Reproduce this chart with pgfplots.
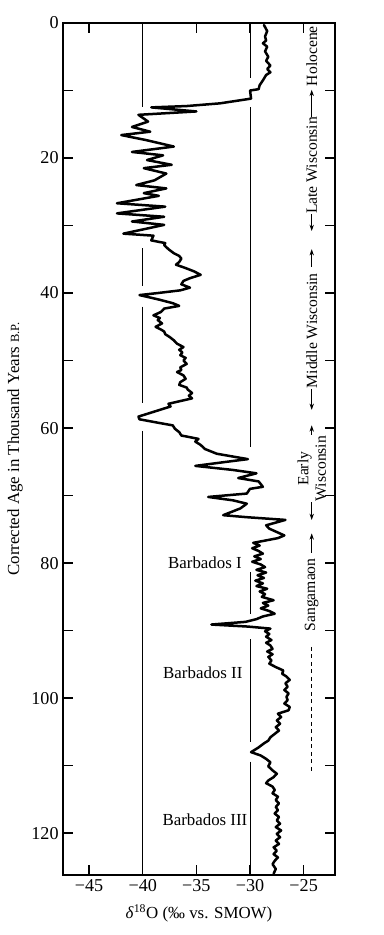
\documentclass[border=0pt]{standalone}
\usepackage{pgfplots}
\pgfplotsset{compat=1.18}
\usepackage{fontspec}
\setmainfont{Liberation Serif}
\usetikzlibrary{arrows.meta}
\begin{document}
\begin{tikzpicture}
\path[use as bounding box] (-50.4pt,-48pt) rectangle (256pt,700pt);
\begin{axis}[
  scale only axis, width=217.6pt, height=681.6pt,
  xmin=-47.43, xmax=-22.08, ymin=0, ymax=126.2,
  y dir=reverse,
  xtick={-45,-40,-35,-30,-25}, xticklabels={−45,−40,−35,−30,−25},
  ytick={0,10,...,120}, yticklabels={0,,20,,40,,60,,80,,100,,120},
  xtick pos=both, ytick pos=both,
  tick align=inside, major tick length=8pt,
  axis line style={line width=1.2pt},
  tick style={line width=1.1pt, black},
  /pgf/number format/assume math mode=true,
  ticklabel style={font=\fontsize{14.5}{16}\selectfont},
  label style={font=\fontsize{13.5}{15}\selectfont},
  xlabel={\textit{δ}\textsuperscript{18}O (‰ vs. SMOW)},
  ylabel={Corrected Age in Thousand Years {\fontsize{10}{12}\selectfont B.P.}},
  xlabel style={at={(axis description cs:0.5,-0.045)}, anchor=center},
  ylabel style={at={(axis description cs:-0.176,0.5)}, anchor=center},
  clip=false,
]
% vertical reference lines with gaps
\draw[line width=0.8pt] (axis cs:-40,0) -- (axis cs:-40,12.4);
\draw[line width=0.8pt] (axis cs:-40,33.4) -- (axis cs:-40,39.0);
\draw[line width=0.8pt] (axis cs:-40,42.0) -- (axis cs:-40,56.3);
\draw[line width=0.8pt] (axis cs:-40,60.4) -- (axis cs:-40,126.2);
\draw[line width=0.8pt] (axis cs:-30,0) -- (axis cs:-30,8.2);
\draw[line width=0.8pt] (axis cs:-30,12.5) -- (axis cs:-30,62.8);
\draw[line width=0.8pt] (axis cs:-30,81.3) -- (axis cs:-30,87.5);
\draw[line width=0.8pt] (axis cs:-30,91.3) -- (axis cs:-30,106.5);
\draw[line width=0.8pt] (axis cs:-30,109.4) -- (axis cs:-30,126.2);

\addplot[black, line width=2pt, line join=round, line cap=round] coordinates {
(-28.7,0.3) (-28.4,1.2) (-28.6,2.0) (-28.5,2.6) (-28.8,3.0) (-28.4,3.5)
(-28.6,4.2) (-28.3,5.0) (-28.5,5.6) (-28.1,6.3) (-28.4,6.8) (-28.1,7.3)
(-28.5,7.7) (-28.8,8.5) (-29.1,9.2) (-29.2,9.8) (-30.0,10.0) (-29.9,11.2)
(-32.8,11.9) (-35.9,12.3) (-39.2,12.5) (-35.0,13.1) (-40.4,13.6)
(-39.5,14.6) (-41.0,15.4) (-39.3,16.1) (-42.0,16.6) (-39.8,17.3)
(-37.1,18.3) (-41.0,19.1) (-38.1,19.6) (-39.6,20.3) (-37.3,21.0)
(-39.9,21.5) (-37.8,22.3) (-38.9,23.3) (-40.6,24.0) (-37.8,24.5)
(-39.9,25.2) (-38.5,25.6) (-42.4,26.7) (-37.9,27.2) (-42.4,28.2)
(-38.0,28.7) (-41.0,29.4) (-38.0,29.9) (-41.8,31.2) (-39.0,31.5)
(-39.2,32.2) (-37.9,32.6) (-38.0,32.9) (-37.6,33.5) (-37.1,34.1)
(-36.6,34.5) (-36.4,34.9) (-36.6,35.4) (-36.9,35.8) (-36.0,36.3)
(-35.2,36.8) (-34.6,37.3) (-35.6,37.8) (-36.2,38.2) (-36.4,38.7)
(-35.6,39.2) (-36.5,39.6) (-38.6,40.0) (-40.3,40.3) (-39.2,40.7)
(-38.4,41.0) (-37.2,41.5) (-36.6,41.9) (-38.0,42.3) (-38.3,42.8)
(-39.0,43.3) (-38.4,43.7) (-38.6,44.0) (-38.2,44.5) (-38.8,45.0)
(-38.3,45.4) (-38.0,45.7) (-37.9,46.1) (-37.5,46.5) (-37.1,47.0)
(-36.8,47.5) (-36.2,48.0) (-36.6,48.4) (-36.3,48.8) (-36.5,49.2)
(-36.0,49.6) (-36.2,50.0) (-35.9,50.5) (-36.5,51.0) (-36.4,51.4)
(-36.8,51.7) (-36.2,52.2) (-36.0,52.7) (-36.5,53.2) (-36.6,53.6)
(-35.9,54.0) (-35.8,54.3) (-35.4,54.8) (-35.7,55.2) (-35.4,55.6)
(-36.5,56.0) (-37.6,56.4) (-37.4,56.8) (-38.6,57.4) (-40.4,58.3)
(-40.3,58.7) (-38.6,59.2) (-37.2,59.6) (-37.0,60.1) (-36.6,60.6)
(-36.4,61.1) (-34.8,61.6) (-35.1,62.0) (-34.6,62.5) (-34.2,63.1)
(-33.1,63.8) (-30.2,64.6) (-32.2,65.0) (-35.1,65.6) (-31.6,66.2)
(-29.4,66.7) (-31.1,67.4) (-29.2,67.9) (-28.8,68.7) (-30.0,69.0)
(-30.3,69.7) (-33.9,70.2) (-31.6,70.7) (-30.3,71.2) (-30.9,71.9)
(-32.5,72.9) (-30.3,73.2) (-26.7,73.6) (-28.5,74.4) (-28.2,74.9)
(-26.8,75.9) (-27.4,76.3) (-29.7,77.0) (-29.1,77.4) (-29.8,77.8)
(-29.2,78.2) (-28.8,78.6) (-29.6,79.0) (-29.0,79.4) (-29.8,79.8)
(-29.0,80.2) (-28.6,80.6) (-29.4,81.0) (-28.5,81.4) (-29.3,81.8)
(-28.7,82.2) (-29.5,82.6) (-28.8,83.0) (-29.4,83.4) (-28.4,83.8)
(-29.1,84.2) (-28.6,84.6) (-28.9,85.0) (-27.8,85.5) (-28.8,85.9)
(-28.3,86.3) (-29.0,86.7) (-28.2,87.1) (-27.7,87.5) (-28.8,87.9)
(-29.4,88.3) (-30.4,88.7) (-33.6,89.1) (-30.2,89.4) (-28.1,89.7)
(-28.6,90.1) (-28.2,90.5) (-28.5,90.9) (-28.0,91.4) (-28.5,91.8)
(-28.1,92.2) (-27.9,92.7) (-28.4,93.1) (-27.9,93.5) (-28.3,93.9)
(-28.0,94.4) (-28.2,94.9) (-27.6,95.4) (-26.9,95.9) (-27.0,96.4)
(-26.6,96.8) (-26.3,97.3) (-26.7,97.8) (-26.5,98.3) (-26.8,98.8)
(-26.4,99.3) (-26.6,99.8) (-26.5,100.3) (-26.8,100.8) (-26.3,101.3)
(-26.4,101.8) (-27.4,102.3) (-27.1,102.8) (-27.5,103.3) (-27.2,103.8)
(-27.6,104.3) (-27.3,104.8) (-27.7,105.3) (-28.1,105.8) (-28.3,106.3)
(-28.7,106.7) (-29.2,107.3) (-29.9,108.0) (-29.0,108.5) (-28.5,109.0)
(-28.1,109.5) (-28.3,110.1) (-27.9,110.7) (-27.5,111.2) (-27.8,111.7)
(-28.3,112.2) (-28.5,112.6) (-27.9,113.1) (-27.7,113.6) (-27.9,114.1)
(-27.4,114.6) (-27.6,115.1) (-27.3,115.6) (-27.6,116.1) (-27.4,116.6)
(-27.7,117.1) (-27.3,117.6) (-27.5,118.1) (-27.2,118.6) (-27.6,119.1)
(-27.1,119.6) (-27.5,120.1) (-27.2,120.6) (-27.6,121.1) (-27.3,121.6)
(-27.8,122.1) (-27.5,122.6) (-27.8,123.1) (-27.4,123.6) (-27.7,124.1)
(-27.9,124.6) (-27.6,125.3) (-27.8,126.0)
};

% era annotations
\begin{scope}[font=\fontsize{12.5}{14}\selectfont]
\node[rotate=90] at (axis cs:-24.25,4.9) {Holocene};
\draw[-{Stealth[length=5pt,width=3.5pt]}, line width=0.6pt] (axis cs:-24.25,13.9) -- (axis cs:-24.25,9.9);
\node[rotate=90] at (axis cs:-24.25,21.1) {Late Wisconsin};
\draw[-{Stealth[length=5pt,width=3.5pt]}, line width=0.6pt] (axis cs:-24.25,28.3) -- (axis cs:-24.25,30.8);
\draw[-{Stealth[length=5pt,width=3.5pt]}, line width=0.6pt] (axis cs:-24.25,36.1) -- (axis cs:-24.25,33.5);
\node[rotate=90] at (axis cs:-24.25,45.6) {Middle Wisconsin};
\draw[-{Stealth[length=5pt,width=3.5pt]}, line width=0.6pt] (axis cs:-24.25,54.2) -- (axis cs:-24.25,57.3);
\draw[-{Stealth[length=5pt,width=3.5pt]}, line width=0.6pt] (axis cs:-24.25,61.0) -- (axis cs:-24.25,59.6);
\node[rotate=90, align=center] at (axis cs:-24.25,66.0) {Early\\Wisconsin};
\draw[-{Stealth[length=5pt,width=3.5pt]}, line width=0.6pt] (axis cs:-24.25,71.0) -- (axis cs:-24.25,73.6);
\draw[-{Stealth[length=5pt,width=3.5pt]}, line width=0.6pt] (axis cs:-24.25,78.5) -- (axis cs:-24.25,75.6);
\node[rotate=90] at (axis cs:-24.25,84.7) {Sangamaon};
\draw[dashed, line width=0.6pt] (axis cs:-24.25,92.4) -- (axis cs:-24.25,110.9);
\end{scope}
\begin{scope}[font=\fontsize{13.5}{15}\selectfont]
\node at (axis cs:-34.2,80) {Barbados I};
\node at (axis cs:-34.4,96.3) {Barbados II};
\node at (axis cs:-34.2,118) {Barbados III};
\end{scope}
\end{axis}
\end{tikzpicture}
\end{document}
